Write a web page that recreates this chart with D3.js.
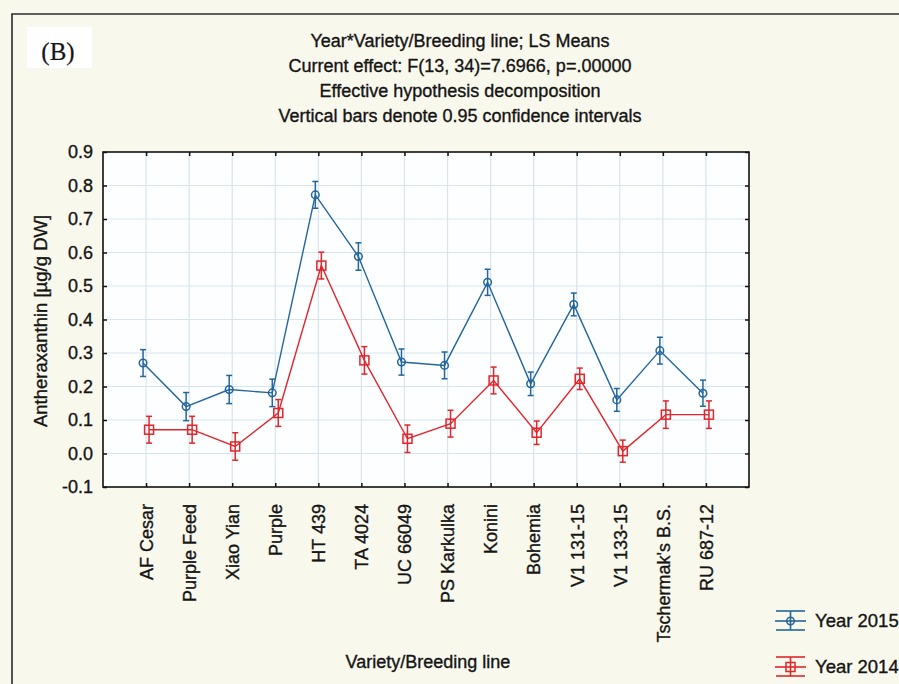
<!DOCTYPE html>
<html>
<head>
<meta charset="utf-8">
<script src="https://cdn.jsdelivr.net/npm/d3@7"></script>
<style>
  html, body { margin: 0; padding: 0; background: #f9f8ec; }
  svg { display: block; }
  text { font-family: "Liberation Sans", Arial, sans-serif; fill: #151515; stroke: #151515; stroke-width: 0.35px; }
</style>
</head>
<body>
<svg id="chart" width="899" height="684"></svg>
<script>
// Varieties / breeding lines on the x axis
const varieties = ["AF Cesar", "Purple Feed", "Xiao Yian", "Purple", "HT 439", "TA 4024",
  "UC 66049", "PS Karkulka", "Konini", "Bohemia", "V1 131-15", "V1 133-15",
  "Tschermak's B.S.", "RU 687-12"];

// LS means of antheraxanthin [µg/g DW] and 95% CI half-widths
const mean2015 = [0.270, 0.140, 0.191, 0.181, 0.772, 0.588, 0.273, 0.263, 0.511, 0.208, 0.445, 0.160, 0.307, 0.180];
const ci2015   = [0.040, 0.042, 0.042, 0.041, 0.040, 0.041, 0.039, 0.040, 0.039, 0.035, 0.034, 0.034, 0.040, 0.039];
const mean2014 = [0.071, 0.071, 0.021, 0.121, 0.561, 0.278, 0.044, 0.089, 0.218, 0.062, 0.223, 0.007, 0.116, 0.116];
const ci2014   = [0.040, 0.040, 0.041, 0.040, 0.040, 0.041, 0.041, 0.040, 0.040, 0.035, 0.032, 0.033, 0.041, 0.041];

const yTicks = [-0.1, 0.0, 0.1, 0.2, 0.3, 0.4, 0.5, 0.6, 0.7, 0.8, 0.9];
const titleLines = [
  "Year*Variety/Breeding line; LS Means",
  "Current effect: F(13, 34)=7.6966, p=.00000",
  "Effective hypothesis decomposition",
  "Vertical bars denote 0.95 confidence intervals"
];

const series = [
  { name: "Year 2015", mean: mean2015, ci: ci2015, color: "#23669c", shape: "circle", shift: -3 },
  { name: "Year 2014", mean: mean2014, ci: ci2014, color: "#e0262b", shape: "square", shift: 3 }
];

const svg = d3.select("#chart");
const W = 899, H = 684;

// page background and outer border
svg.append("rect").attr("width", W).attr("height", H).attr("fill", "#f9f8ec");
svg.append("path")
  .attr("d", `M12,${H} L12,14 L${W},14`)
  .attr("fill", "none").attr("stroke", "#2b2b2b").attr("stroke-width", 1.6);

// panel label
svg.append("rect").attr("x", 27).attr("y", 27).attr("width", 65).attr("height", 41).attr("fill", "#ffffff");
svg.append("text").attr("x", 58).attr("y", 60).attr("text-anchor", "middle")
  .style("font-family", "'Liberation Serif', 'Times New Roman', serif")
  .style("stroke-width", "0.2px")
  .style("font-size", "25px").text("(B)");

// title block
svg.append("g").selectAll("text").data(titleLines).join("text")
  .attr("x", 460).attr("y", (d, i) => 47 + i * 25)
  .attr("text-anchor", "middle").style("font-size", "18px")
  .text(d => d);

const plot = { left: 103, top: 152, right: 749, bottom: 487 };

const x = d3.scalePoint().domain(varieties).range([plot.left, plot.right]).padding(1);
const y = d3.scaleLinear().domain([-0.1, 0.9]).range([plot.bottom, plot.top]);

// plot area
svg.append("rect")
  .attr("x", plot.left).attr("y", plot.top)
  .attr("width", plot.right - plot.left).attr("height", plot.bottom - plot.top)
  .attr("fill", "#fdfeff");

// grid
const grid = svg.append("g").attr("stroke", "#d6e5ee").attr("stroke-width", 1.2);
grid.selectAll("line.h").data(yTicks.slice(1, -1)).join("line")
  .attr("x1", plot.left).attr("x2", plot.right)
  .attr("y1", d => y(d)).attr("y2", d => y(d));
grid.selectAll("line.v").data(varieties).join("line")
  .attr("y1", plot.top).attr("y2", plot.bottom)
  .attr("x1", d => x(d)).attr("x2", d => x(d));

// axes (inward ticks on all four sides)
const axisLeft = d3.axisLeft(y).tickValues(yTicks).tickFormat(d3.format(".1f")).tickSize(-4).tickPadding(10);
const gL = svg.append("g").attr("transform", `translate(${plot.left},0)`).call(axisLeft);
gL.selectAll("text").style("font-size", "18px")
  .text(d => d3.format(".1f")(d).replace("−", "-"));

const gR = svg.append("g").attr("transform", `translate(${plot.right},0)`)
  .call(d3.axisRight(y).tickValues(yTicks).tickSize(-4).tickFormat(""));

const gT = svg.append("g").attr("transform", `translate(0,${plot.top})`)
  .call(d3.axisTop(x).tickSize(-4).tickFormat(""));

const gB = svg.append("g").attr("transform", `translate(0,${plot.bottom})`)
  .call(d3.axisBottom(x).tickSize(-4).tickPadding(0));
gB.selectAll("text")
  .style("font-size", "18px")
  .attr("text-anchor", "end")
  .attr("transform", "rotate(-90)")
  .attr("x", -17).attr("y", 0).attr("dy", "0.35em");

[gL, gR, gT, gB].forEach(g => {
  g.select(".domain").remove();
  g.selectAll(".tick line").attr("stroke", "#111").attr("stroke-width", 1.5);
  g.selectAll("text").attr("fill", null);
});

// frame
svg.append("rect")
  .attr("x", plot.left).attr("y", plot.top)
  .attr("width", plot.right - plot.left).attr("height", plot.bottom - plot.top)
  .attr("fill", "none").attr("stroke", "#111").attr("stroke-width", 1.6);

// axis titles
svg.append("text")
  .attr("transform", `translate(47,321) rotate(-90)`)
  .attr("text-anchor", "middle").style("font-size", "18.5px")
  .text("Antheraxanthin [µg/g DW]");
svg.append("text").attr("x", 428).attr("y", 668).attr("text-anchor", "middle")
  .style("font-size", "18px").text("Variety/Breeding line");

// series: lines, CI bars, markers
function drawMarker(g, shape, cx, cy, color) {
  if (shape === "circle") {
    g.append("circle").attr("cx", cx).attr("cy", cy).attr("r", 3.8)
      .attr("fill", "none").attr("stroke", color).attr("stroke-width", 1.5);
  } else {
    g.append("rect").attr("x", cx - 4.5).attr("y", cy - 4.5).attr("width", 9).attr("height", 9)
      .attr("fill", "none").attr("stroke", color).attr("stroke-width", 1.5);
  }
}

series.forEach(s => {
  const g = svg.append("g");
  const px = i => x(varieties[i]) + s.shift;
  const line = d3.line().x((d, i) => px(i)).y(d => y(d));
  g.append("path").datum(s.mean).attr("d", line)
    .attr("fill", "none").attr("stroke", s.color).attr("stroke-width", 1.4);
  s.mean.forEach((m, i) => {
    const cx = px(i), y0 = y(m - s.ci[i]), y1 = y(m + s.ci[i]);
    g.append("line").attr("x1", cx).attr("x2", cx).attr("y1", y0).attr("y2", y1)
      .attr("stroke", s.color).attr("stroke-width", 1.5);
    [y0, y1].forEach(yy => g.append("line")
      .attr("x1", cx - 3).attr("x2", cx + 3).attr("y1", yy).attr("y2", yy)
      .attr("stroke", s.color).attr("stroke-width", 1.5));
    drawMarker(g, s.shape, cx, y(m), s.color);
  });
});

// legend
const legend = svg.append("g");
series.forEach((s, i) => {
  const cy = 621 + i * 46, cx = 790.5;
  const lg = legend.append("g");
  lg.append("line").attr("x1", 775).attr("x2", 806).attr("y1", cy).attr("y2", cy)
    .attr("stroke", s.color).attr("stroke-width", 1.6);
  [cy - 10, cy + 9].forEach(yy => lg.append("line")
    .attr("x1", 776).attr("x2", 805).attr("y1", yy).attr("y2", yy)
    .attr("stroke", s.color).attr("stroke-width", 1.6));
  lg.append("line").attr("x1", cx).attr("x2", cx).attr("y1", cy - 10).attr("y2", cy + 9)
    .attr("stroke", s.color).attr("stroke-width", 1.6);
  drawMarker(lg, s.shape, cx, cy, s.color);
  lg.append("text").attr("x", 815).attr("y", cy).attr("dy", "0.35em")
    .style("font-size", "18.5px").text(s.name);
});
</script>
</body>
</html>
